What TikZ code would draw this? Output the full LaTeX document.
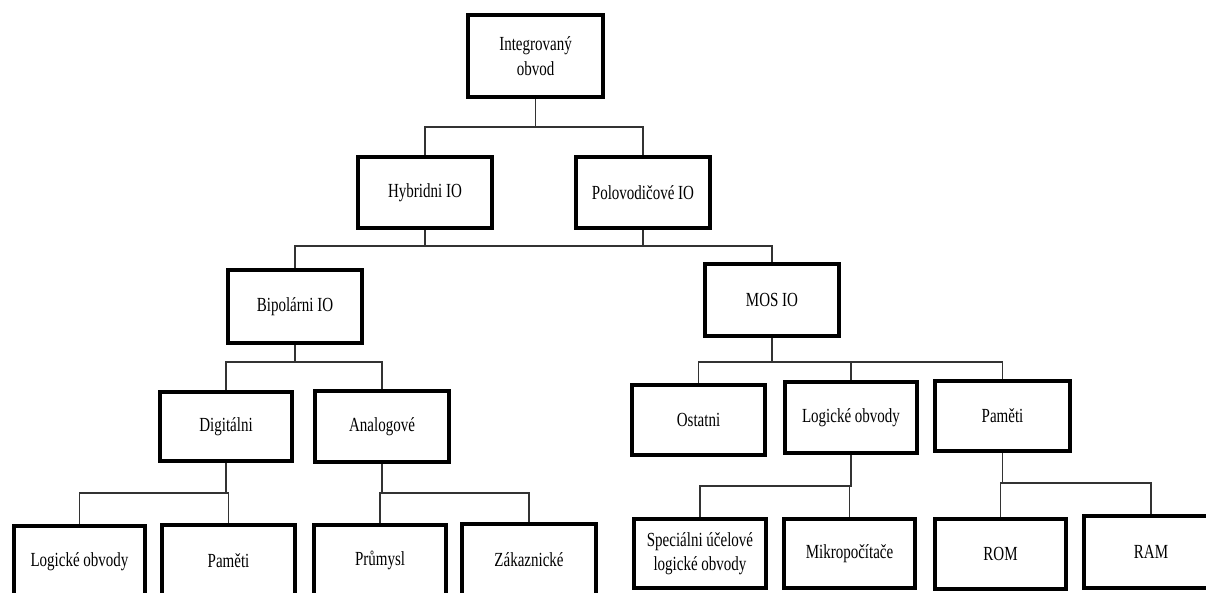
\documentclass[tikz,border=0pt]{standalone}
\usepackage{fontspec}
\setmainfont{Liberation Serif}[FakeStretch=0.75]
\begin{document}
\begin{tikzpicture}[x=1pt,y=-1pt,
  box/.style={draw=black, line width=4pt, fill=white, minimum width=134pt,
    minimum height=71pt, inner sep=2pt, align=center,
    font=\fontsize{20}{24.5}\selectfont},
  conn/.style={draw=black!80, line width=1.3pt}]
  % page frame and clipping of boxes running past the edge
  \path[use as bounding box, fill=white] (0,0) rectangle (1206,592);
  \clip (0,0) rectangle (1206,592);

  % level 0
  \node[box, minimum width=135pt, minimum height=82pt] (top) at (535.5,56) {Integrovaný\\obvod};
  % level 1
  \node[box] (hyb) at (425,192.5) {Hybridni IO};
  \node[box] (pol) at (643,192.5) {Polovodičové IO};
  % level 2
  \node[box, minimum height=73pt] (bip) at (295,306.5) {Bipolárni IO};
  \node[box, minimum height=72pt] (mos) at (772,300) {MOS IO};
  % level 3
  \node[box, minimum width=132pt, minimum height=69pt] (dig) at (226,426.5) {Digitálni};
  \node[box] (ana) at (382,426.5) {Analogové};
  \node[box, minimum width=133pt, minimum height=70pt] (ost) at (698.5,420) {Ostatni};
  \node[box, minimum width=132pt] (log2) at (851,417.5) {Logické obvody};
  \node[box, minimum width=135pt, minimum height=70pt] (pam2) at (1002.5,416) {Paměti};
  % level 4
  \node[box, minimum width=131pt] (log1) at (79.5,561.5) {Logické obvody};
  \node[box, minimum width=133pt] (pam1) at (228.5,560.5) {Paměti};
  \node[box, minimum width=132pt] (pru) at (380,560.5) {Průmysl};
  \node[box] (zak) at (529,559.5) {Zákaznické};
  \node[box, minimum width=132pt, minimum height=69pt] (spec) at (700,553.5) {Speciálni účelové\\logické obvody};
  \node[box, minimum width=131pt, minimum height=69pt] (mik) at (849.5,553.5) {Mikropočítače};
  \node[box, minimum width=131pt, minimum height=70pt] (rom) at (1000.5,554) {ROM};
  \node[box, minimum height=72pt] (ram) at (1151,552) {RAM};

  % bus heights
  \coordinate (b1) at (0,127);
  \coordinate (b2) at (0,246);
  \coordinate (b3) at (0,362);
  \coordinate (b4) at (0,493);
  \coordinate (b5) at (0,486);
  \coordinate (b6) at (0,483);

  % connectors
  \draw[conn] (top.south) -- (top.south |- b1) -| (hyb.north);
  \draw[conn] (top.south |- b1) -| (pol.north);
  \draw[conn] (hyb.south) -- (hyb.south |- b2);
  \draw[conn] (pol.south) -- (pol.south |- b2);
  \draw[conn] (bip.north) |- (mos.north |- b2) -- (mos.north);
  \draw[conn] (bip.south) -- (bip.south |- b3) -| (dig.north);
  \draw[conn] (bip.south |- b3) -| (ana.north);
  \draw[conn] (mos.south) -- (mos.south |- b3) -| (ost.north);
  \draw[conn] (mos.south |- b3) -| (log2.north);
  \draw[conn] (mos.south |- b3) -| (pam2.north);
  \draw[conn] (dig.south) -- (dig.south |- b4) -| (log1.north);
  \draw[conn] (dig.south |- b4) -| (pam1.north);
  \draw[conn] (ana.south) -- (ana.south |- b4) -| (pru.north);
  \draw[conn] (ana.south |- b4) -| (zak.north);
  \draw[conn] (log2.south) -- (log2.south |- b5) -| (spec.north);
  \draw[conn] (log2.south |- b5) -| (mik.north);
  \draw[conn] (pam2.south) -- (pam2.south |- b6) -| (rom.north);
  \draw[conn] (pam2.south |- b6) -| (ram.north);
\end{tikzpicture}
\end{document}
